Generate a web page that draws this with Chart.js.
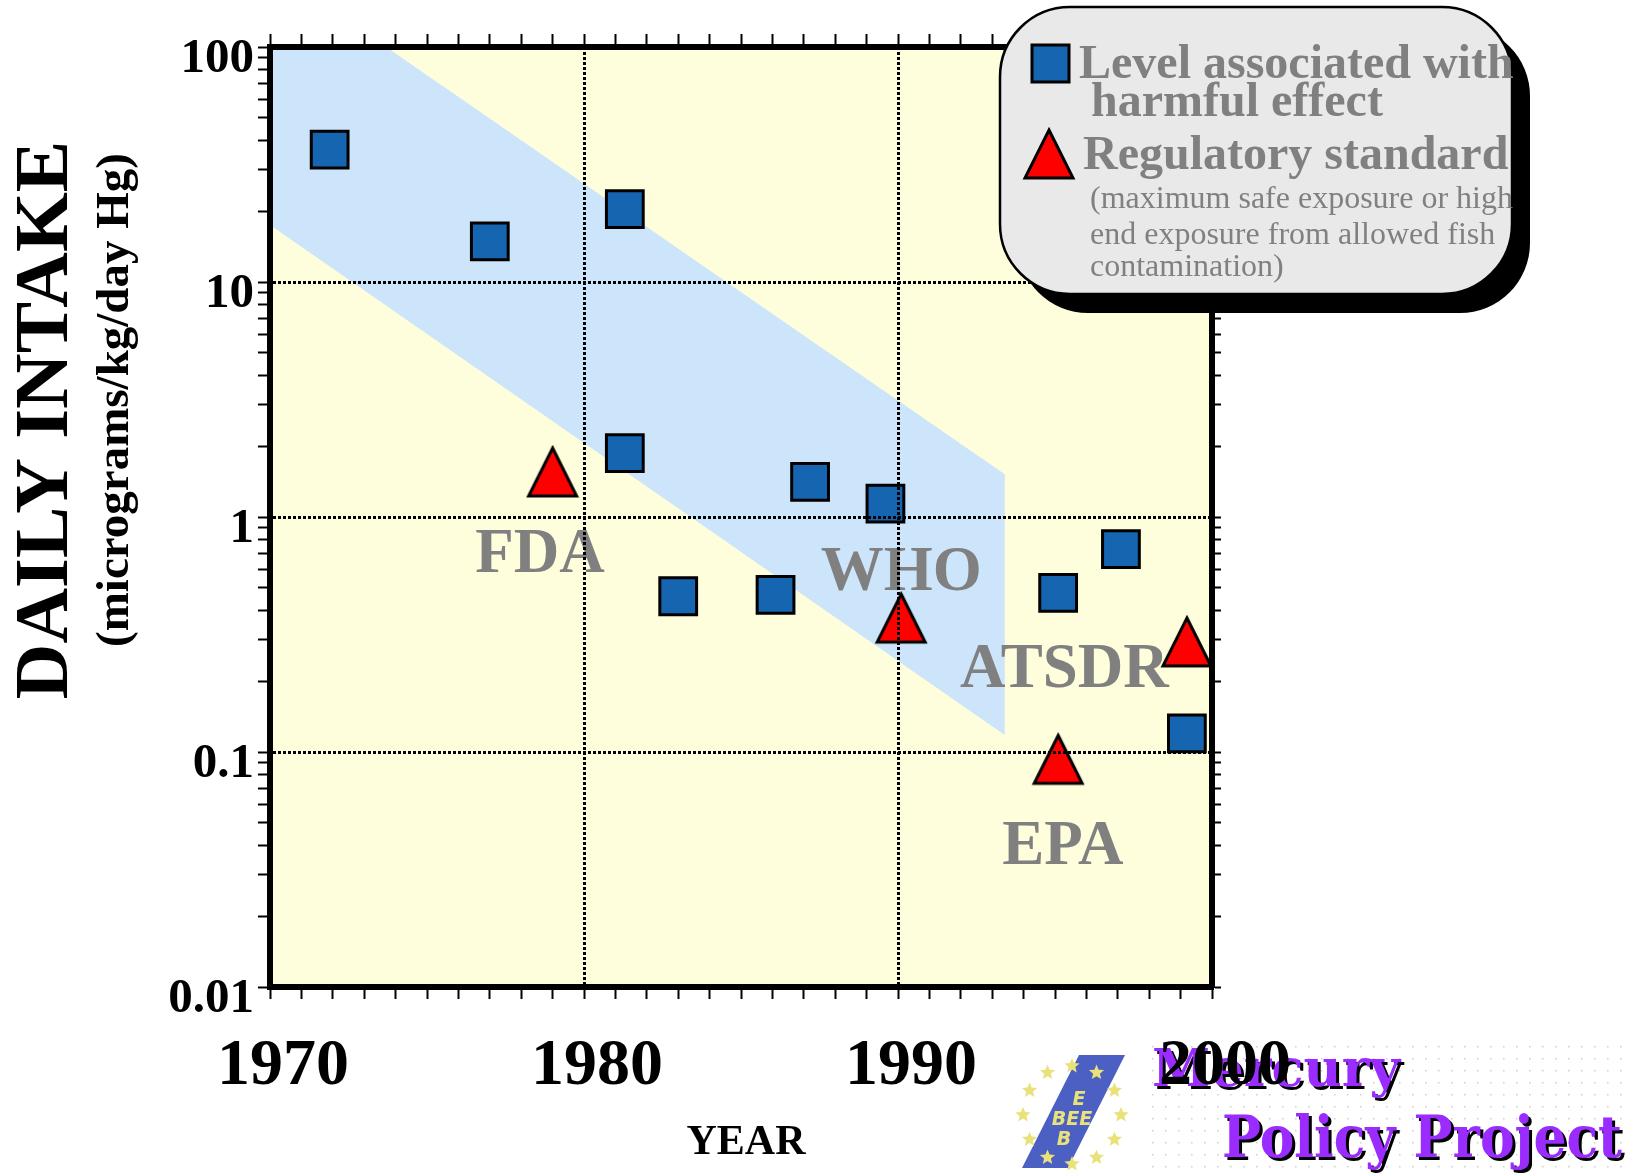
<!DOCTYPE html>
<html>
<head>
<meta charset="utf-8">
<script src="https://cdn.jsdelivr.net/npm/chart.js@4.4.1/dist/chart.umd.min.js"></script>
<style>
html,body{margin:0;padding:0;background:#fff;}
</style>
</head>
<body>
<canvas id="chart" width="1628" height="1173"></canvas>
<script>
const serif = '"Liberation Serif", "Times New Roman", serif';

// levels associated with harmful effect (blue squares)
const harmYears  = [1971.9, 1977.0, 1981.3, 1981.3, 1983.0, 1986.1, 1987.2, 1989.6, 1995.1, 1997.1, 1999.2];
const harmValues = [36.6, 14.9, 20.4, 1.87, 0.46, 0.466, 1.41, 1.14, 0.475, 0.73, 0.12];

// regulatory standards (red triangles)
const regYears  = [1979.0, 1990.1, 1995.1, 1999.2];
const regValues = [1.57, 0.375, 0.094, 0.297];

// shaded band, outline walked round
const bandYears  = [1970, 1973.7, 1993.4, 1993.4, 1970];
const bandValues = [100, 100, 1.52, 0.118, 17.5];

// agency names written on the plot (centre x, baseline)
const noteText   = ['FDA', 'WHO', 'ATSDR', 'EPA'];
const noteYears  = [1978.6, 1990.1, 1995.3, 1995.25];
const noteValues = [0.583, 0.489, 0.189, 0.0333];

const xLabelYears = [1970, 1980, 1990, 2000];
const yLabels = ['0.01', '0.1', '1', '10', '100'];

// every year gets a tick, every 1..9 x 10^n gets a tick on the log axis
let yearTicks = [];
for (let y = 1970; y <= 2000; y++) yearTicks.push(y);
let yTicks = [];
for (let i = 0; i < yLabels.length - 1; i++) {
    let d = parseFloat(yLabels[i]);
    for (let m = 1; m < 10; m++) yTicks.push(parseFloat((d * m).toPrecision(3)));
}
yTicks.push(parseFloat(yLabels[yLabels.length - 1]));

function decadeLabel(v) {
    return yLabels.find(l => Math.abs(v / parseFloat(l) - 1) < 1e-6);
}

function triangleMarker() {
    let c = document.createElement('canvas');
    c.width = 54; c.height = 56;
    let g = c.getContext('2d');
    g.beginPath();
    g.moveTo(27, 5); g.lineTo(51, 53); g.lineTo(3, 53); g.closePath();
    g.fillStyle = '#ff0000'; g.fill();
    g.lineWidth = 3; g.strokeStyle = '#000'; g.stroke();
    return c;
}
const tri = triangleMarker();

function rrect(g, x, y, w, h, r) {
    g.beginPath();
    g.moveTo(x + r, y);
    g.arcTo(x + w, y, x + w, y + h, r);
    g.arcTo(x + w, y + h, x, y + h, r);
    g.arcTo(x, y + h, x, y, r);
    g.arcTo(x, y, x + w, y, r);
    g.closePath();
}

function star(g, cx, cy, r) {
    g.beginPath();
    for (let i = 0; i < 10; i++) {
        let rr = i % 2 ? r * 0.45 : r;
        let a = -Math.PI / 2 + i * Math.PI / 5;
        g.lineTo(cx + rr * Math.cos(a), cy + rr * Math.sin(a));
    }
    g.closePath();
    g.fill();
}

function fitText(g, text, x, y, w) {
    let m = g.measureText(text).width;
    g.save();
    g.translate(x, y);
    g.scale(w / m, 1);
    g.fillText(text, 0, 0);
    g.restore();
}

function drawLogo(g) {
    // dotted backdrop
    g.fillStyle = '#cfcfcf';
    for (let x = 1152; x < 1628; x += 13)
        for (let y = 1046; y < 1173; y += 12) g.fillRect(x, y, 1.5, 1.5);
    // EEB plate
    g.fillStyle = '#4c5fc2';
    g.beginPath();
    g.moveTo(1079, 1055); g.lineTo(1125, 1055); g.lineTo(1068, 1168); g.lineTo(1022, 1168);
    g.closePath(); g.fill();
    g.fillStyle = '#e9e27a';
    for (let i = 0; i < 12; i++) {
        let a = -Math.PI / 2 + i * Math.PI / 6;
        star(g, 1072 + 49 * Math.cos(a), 1115 + 49 * Math.sin(a), 8);
    }
    g.font = 'italic bold 19px "DejaVu Sans", sans-serif';
    g.textAlign = 'center'; g.textBaseline = 'alphabetic';
    g.fillText('E', 1079, 1105);
    g.fillText('BEE', 1072, 1125);
    g.fillText('B', 1064, 1145);
    // Mercury Policy Project
    g.textAlign = 'left';
    g.font = 'bold 52px "DejaVu Serif", serif';
    g.fillStyle = '#000';
    fitText(g, 'Mercury', 1155, 1089, 248);
    g.fillStyle = '#9a2cff';
    fitText(g, 'Mercury', 1152, 1086, 248);
    g.font = 'bold 58px "DejaVu Serif", serif';
    g.fillStyle = '#000';
    fitText(g, 'Policy Project', 1225, 1160, 400);
    g.fillStyle = '#9a2cff';
    fitText(g, 'Policy Project', 1222, 1157, 400);
}

function drawAxisTitles(g) {
    g.fillStyle = '#000';
    g.textAlign = 'center'; g.textBaseline = 'alphabetic';
    g.save();
    g.translate(67, 420); g.rotate(-Math.PI / 2);
    g.font = 'bold 77px ' + serif;
    g.fillText('DAILY INTAKE', 0, 0);
    g.restore();
    g.save();
    g.translate(128, 400); g.rotate(-Math.PI / 2);
    g.font = 'bold 47px ' + serif;
    g.fillText('(micrograms/kg/day Hg)', 0, 0);
    g.restore();
    g.font = 'bold 42px ' + serif;
    g.fillText('YEAR', 746, 1154);
}

function drawLegend(g) {
    g.save();
    g.fillStyle = '#000';
    rrect(g, 1018, 26, 512, 287, 70); g.fill();
    g.fillStyle = '#e9e9e9';
    rrect(g, 1000, 7, 512, 287, 70); g.fill();
    g.lineWidth = 2.5; g.strokeStyle = '#000'; g.stroke();
    // markers
    g.fillStyle = '#1565b0';
    g.fillRect(1032, 45, 37, 37);
    g.lineWidth = 3; g.strokeRect(1032, 45, 37, 37);
    g.drawImage(tri, 1049 - 27, 153 - 28);
    // text
    g.fillStyle = '#808080';
    g.textAlign = 'left'; g.textBaseline = 'alphabetic';
    g.font = 'bold 48px ' + serif;
    g.fillText('Level associated with', 1079, 78);
    g.fillText('harmful effect', 1091, 116);
    g.fillText('Regulatory standard', 1083, 169);
    g.font = '32px ' + serif;
    g.fillText('(maximum safe exposure or high', 1090, 208);
    g.fillText('end exposure from allowed fish', 1090, 244);
    g.fillText('contamination)', 1090, 276);
    g.restore();
}

const decor = {
    id: 'decor',
    beforeDraw(chart) {
        let g = chart.ctx, a = chart.chartArea;
        g.save();
        g.fillStyle = '#fff';
        g.fillRect(0, 0, chart.width, chart.height);
        g.fillStyle = '#fefedc';
        g.fillRect(a.left, a.top, a.right - a.left, a.bottom - a.top);
        drawLogo(g);
        drawAxisTitles(g);
        g.restore();
    },
    afterDatasetsDraw(chart) {
        let g = chart.ctx, xs = chart.scales.x, ys = chart.scales.y;
        g.save();
        g.fillStyle = '#808080';
        g.font = 'bold 63px ' + serif;
        g.textAlign = 'center'; g.textBaseline = 'alphabetic';
        noteText.forEach((t, i) => {
            g.fillText(t, xs.getPixelForValue(noteYears[i]), ys.getPixelForValue(noteValues[i]));
        });
        g.restore();
    },
    afterDraw(chart) {
        drawLegend(chart.ctx);
    }
};

const hidden = 'rgba(0,0,0,0)';
const tickFontY = {family: serif, weight: 'bold', size: 49, lineHeight: 1};
const tickFontX = {family: serif, weight: 'bold', size: 66, lineHeight: 1};

function setYearTicks(s) { s.ticks = yearTicks.map(v => ({value: v})); }
function setLogTicks(s) { s.ticks = yTicks.map(v => ({value: v})); }

new Chart('chart', {
    type: 'scatter',
    data: {
        datasets: [
            {
                label: 'Regulatory standard',
                data: regYears.map((x, i) => ({x: x, y: regValues[i]})),
                pointStyle: tri,
                pointRadius: 26,
                clip: false,
                order: 0
            },
            {
                label: 'Level associated with harmful effect',
                data: harmYears.map((x, i) => ({x: x, y: harmValues[i]})),
                pointStyle: 'rect',
                pointRadius: 26,
                backgroundColor: '#1565b0',
                borderColor: '#000',
                borderWidth: 3,
                clip: false,
                order: 1
            },
            {
                type: 'line',
                label: 'band',
                data: bandYears.map((x, i) => ({x: x, y: bandValues[i]})),
                showLine: true,
                fill: 'shape',
                backgroundColor: '#cce5fb',
                borderWidth: 0,
                borderColor: hidden,
                pointRadius: 0,
                tension: 0,
                order: 5
            }
        ]
    },
    options: {
        responsive: false,
        animation: false,
        devicePixelRatio: 1,
        events: [],
        layout: {padding: {left: 0, top: 0, right: 396, bottom: 0}},
        plugins: {legend: {display: false}, tooltip: {enabled: false}},
        scales: {
            x: {
                type: 'linear', position: 'bottom', min: 1970, max: 2000,
                afterFit: s => { s.height = 186; },
                afterBuildTicks: setYearTicks,
                ticks: {
                    autoSkip: false, maxRotation: 0, minRotation: 0,
                    padding: 35, labelOffset: 13, color: '#000', font: tickFontX,
                    callback: v => xLabelYears.includes(v) ? String(v) : ''
                },
                grid: {
                    color: c => (c.tick && (c.tick.value === 1980 || c.tick.value === 1990)) ? '#000' : hidden,
                    lineWidth: 3, tickColor: '#000', tickWidth: 2, tickLength: 12, z: 1
                },
                border: {display: true, color: '#000', width: 6, dash: [3, 2], z: 2}
            },
            x2: {
                type: 'linear', position: 'top', min: 1970, max: 2000,
                afterFit: s => { s.height = 47; },
                afterBuildTicks: setYearTicks,
                ticks: {display: false},
                grid: {drawOnChartArea: false, tickColor: '#000', tickWidth: 2, tickLength: 13},
                border: {display: true, color: '#000', width: 6, z: 2}
            },
            y: {
                type: 'logarithmic', position: 'left', min: 0.01, max: 100,
                afterFit: s => { s.width = 270; },
                afterBuildTicks: setLogTicks,
                ticks: {
                    autoSkip: false, padding: 4, labelOffset: 12, color: '#000', font: tickFontY,
                    callback: v => decadeLabel(v) || ''
                },
                grid: {
                    color: c => (c.tick && decadeLabel(c.tick.value) && c.tick.value > 0.011 && c.tick.value < 99) ? '#000' : hidden,
                    lineWidth: 3, tickColor: '#000', tickWidth: 2, tickLength: 12, z: 1
                },
                border: {display: true, color: '#000', width: 6, dash: [3, 2], z: 2}
            },
            y2: {
                type: 'logarithmic', position: 'right', min: 0.01, max: 100,
                afterFit: s => { s.width = 20; },
                afterBuildTicks: setLogTicks,
                ticks: {display: false},
                grid: {drawOnChartArea: false, tickColor: '#000', tickWidth: 2, tickLength: 9},
                border: {display: true, color: '#000', width: 6, z: 2}
            }
        }
    },
    plugins: [decor]
});
</script>
</body>
</html>
